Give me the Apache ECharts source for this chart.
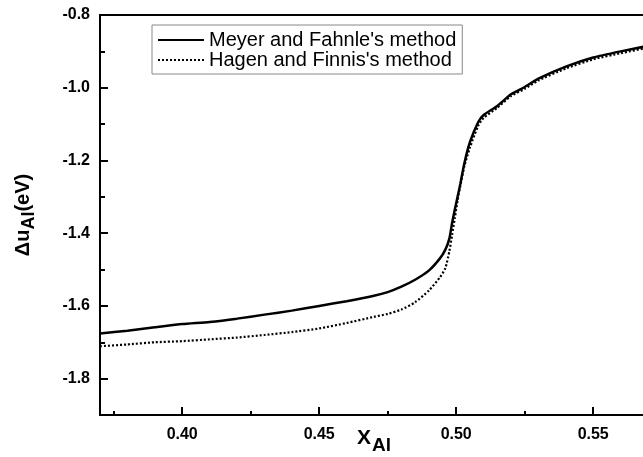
<!DOCTYPE html>
<html>
<head>
<meta charset="utf-8">
<script src="https://cdn.jsdelivr.net/npm/echarts@6/dist/echarts.min.js"></script>
<style>
  html, body { margin: 0; padding: 0; background: #fff; }
  #chart { width: 643px; height: 457px; }
</style>
</head>
<body>
<div id="chart"></div>
<script>
// x positions (X_Al) shared by both curves
const xAl = [0.370, 0.380, 0.390, 0.400, 0.410, 0.420, 0.430, 0.440, 0.450, 0.460,
  0.470, 0.475, 0.480, 0.485, 0.490, 0.494, 0.496, 0.4975, 0.4985, 0.4995,
  0.5005, 0.5015, 0.503, 0.505, 0.508, 0.510, 0.515, 0.520, 0.525, 0.530,
  0.540, 0.550, 0.560, 0.570];
// Meyer and Fahnle's method
const meyer = [-1.676, -1.668, -1.659, -1.650, -1.644, -1.635, -1.624, -1.613, -1.600, -1.587,
  -1.572, -1.562, -1.547, -1.528, -1.503, -1.470, -1.446, -1.415, -1.372, -1.335,
  -1.300, -1.265, -1.207, -1.150, -1.095, -1.075, -1.050, -1.018, -0.998, -0.975,
  -0.942, -0.917, -0.900, -0.885];
// Hagen and Finnis's method
const hagen = [-1.711, -1.706, -1.700, -1.697, -1.692, -1.687, -1.680, -1.672, -1.662, -1.647,
  -1.630, -1.622, -1.610, -1.590, -1.558, -1.522, -1.497, -1.450, -1.405, -1.358,
  -1.310, -1.270, -1.215, -1.165, -1.105, -1.083, -1.055, -1.023, -1.003, -0.980,
  -0.947, -0.922, -0.905, -0.890];

const seriesNames = ["Meyer and Fahnle's method", "Hagen and Finnis's method"];
const xTicks = [0.40, 0.45, 0.50, 0.55];
const xMinorTicks = [0.375, 0.425, 0.475, 0.525, 0.575];
const yTicks = [-1.8, -1.6, -1.4, -1.2, -1.0, -0.8];
const yMinorTicks = [-1.9, -1.7, -1.5, -1.3, -1.1, -0.9];

const chart = echarts.init(document.getElementById('chart'));

const FONT = 'Arial, "Liberation Sans", sans-serif';
const labelFont = { color: '#000', fontFamily: FONT, fontWeight: 'bold', fontSize: 16 };

const option = {
  backgroundColor: '#fff',
  animation: false,
  grid: {
    left: 100, top: 15, width: 548, height: 400,
    outerBoundsMode: 'none', containLabel: false,
    show: true, borderColor: '#000', borderWidth: 2, backgroundColor: 'transparent'
  },
  legend: {
    orient: 'vertical',
    left: 152, top: 25,
    padding: [5, 6, 4, 5],
    itemWidth: 46, itemHeight: 14, itemGap: 0,
    borderColor: '#888', borderWidth: 1,
    itemStyle: { color: 'rgba(0,0,0,0)', borderColor: 'rgba(0,0,0,0)', borderWidth: 0 },
    textStyle: { color: '#000', fontSize: 20, lineHeight: 20, fontFamily: FONT },
    data: seriesNames
  },
  xAxis: [{
    type: 'value', min: 0.37, max: 0.57,
    splitLine: { show: false },
    axisLine: { lineStyle: { color: '#000', width: 2 } },
    axisTick: { inside: true, length: 8, customValues: xTicks, lineStyle: { color: '#000', width: 2 } },
    axisLabel: Object.assign({ margin: 12, customValues: xTicks, formatter: v => v.toFixed(2) }, labelFont),
    name: '{a|X}{s|Al}',
    nameLocation: 'middle', nameGap: 13, nameMoveOverlap: false,
    nameTextStyle: {
      rich: {
        a: { fontSize: 21, fontWeight: 'bold', color: '#000', fontFamily: FONT, verticalAlign: 'top' },
        s: { fontSize: 19, fontWeight: 'bold', color: '#000', fontFamily: FONT, verticalAlign: 'top', padding: [8, 0, 0, 1] }
      }
    }
  }, {
    type: 'value', min: 0.37, max: 0.57, position: 'bottom',
    splitLine: { show: false },
    axisLine: { show: false },
    axisLabel: { show: false },
    axisTick: { inside: true, length: 4, customValues: xMinorTicks, lineStyle: { color: '#000', width: 2 } }
  }],
  yAxis: [{
    type: 'value', min: -1.9, max: -0.8,
    splitLine: { show: false },
    axisLine: { lineStyle: { color: '#000', width: 2 } },
    axisTick: { inside: true, length: 8, customValues: yTicks, lineStyle: { color: '#000', width: 2 } },
    axisLabel: Object.assign({ margin: 10, customValues: yTicks, formatter: v => v.toFixed(1) }, labelFont),
    name: '{a|Δu}{s|Al}{a|(eV)}',
    nameLocation: 'middle', nameGap: 62, nameMoveOverlap: false,
    nameTextStyle: {
      rich: {
        a: { fontSize: 20, fontWeight: 'bold', color: '#000', fontFamily: FONT, verticalAlign: 'top' },
        s: { fontSize: 18, fontWeight: 'bold', color: '#000', fontFamily: FONT, verticalAlign: 'top', padding: [7, 0, 0, 0] }
      }
    }
  }, {
    type: 'value', min: -1.9, max: -0.8, position: 'left',
    splitLine: { show: false },
    axisLine: { show: false },
    axisLabel: { show: false },
    axisTick: { inside: true, length: 5, customValues: yMinorTicks, lineStyle: { color: '#000', width: 2 } }
  }],
  series: [{
    name: seriesNames[0],
    type: 'line',
    symbol: 'none',
    smooth: 0.2,
    lineStyle: { color: '#000', width: 2.5 },
    itemStyle: { color: '#000' },
    data: xAl.map((x, i) => [x, meyer[i]])
  }, {
    name: seriesNames[1],
    type: 'line',
    symbol: 'none',
    smooth: 0.2,
    lineStyle: { color: '#000', width: 2.2, type: [2, 2] },
    itemStyle: { color: '#000' },
    data: xAl.map((x, i) => [x, hagen[i]])
  }]
};

chart.setOption(option);
</script>
</body>
</html>
